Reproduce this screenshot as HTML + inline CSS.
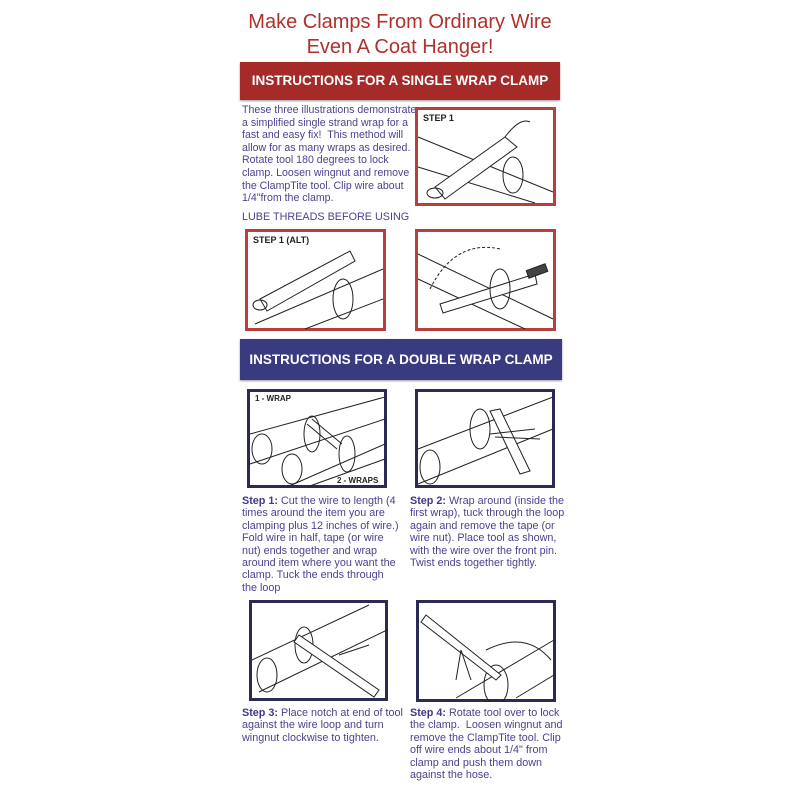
<!DOCTYPE html>
<html><head><meta charset="utf-8"><style>
body{margin:0;width:800px;height:800px;background:#fff;position:relative;overflow:hidden;font-family:"Liberation Sans",sans-serif}
.a{position:absolute}
.t{color:#b0302c;font-size:20px;text-align:center;width:400px;left:200px}
.ban{position:absolute;color:#fff;font-weight:bold;font-size:13.5px;text-align:center;box-shadow:0 1px 2px #999;white-space:nowrap}
.tx{position:absolute;color:#4b4290;font-size:10.8px;line-height:12.4px;white-space:nowrap}
.tx b{color:#3f3a88}
svg{position:absolute}
</style></head><body>
<div class="a t" style="top:11px">Make Clamps From Ordinary Wire</div>
<div class="a t" style="top:36px">Even A Coat Hanger!</div>
<div class="ban" style="left:240px;top:62px;width:320px;height:38px;line-height:38px;background:#a52a28">INSTRUCTIONS FOR A SINGLE WRAP CLAMP</div>
<div class="tx" style="left:242px;top:104px;line-height:12.6px;font-size:10.6px">These three illustrations demonstrate<br>a simplified single strand wrap for a<br>fast and easy fix!&nbsp; This method will<br>allow for as many wraps as desired.<br>Rotate tool 180 degrees to lock<br>clamp. Loosen wingnut and remove<br>the ClampTite tool. Clip wire about<br>1/4"from the clamp.</div>
<div class="tx" style="left:242px;top:211px">LUBE THREADS BEFORE USING</div>

<svg style="left:415px;top:107px" width="141" height="99"><rect x="1.5" y="1.5" width="138" height="96" fill="#fff" stroke="#b8403a" stroke-width="3"/>
<g stroke="#222" fill="none" stroke-width="1"><path d="M3 30 L138 85 M3 60 L120 96"/><path d="M20 80 L90 30 L102 40 L30 92 Z" fill="#fff"/><path d="M90 30 q15 -20 25 -15"/><ellipse cx="98" cy="68" rx="10" ry="18"/><ellipse cx="20" cy="86" rx="8" ry="5"/></g>
<text x="8" y="14" font-size="9" font-weight="bold" fill="#222" font-family="Liberation Sans">STEP 1</text></svg>

<svg style="left:245px;top:229px" width="141" height="102"><rect x="1.5" y="1.5" width="138" height="99" fill="#fff" stroke="#b8403a" stroke-width="3"/>
<g stroke="#222" fill="none"><path d="M10 95 L138 40 M60 100 L138 70"/><path d="M15 70 L105 22 L110 32 L22 82 Z" fill="#fff"/><ellipse cx="98" cy="70" rx="10" ry="20"/><ellipse cx="15" cy="76" rx="7" ry="5"/></g>
<text x="8" y="14" font-size="9" font-weight="bold" fill="#222" font-family="Liberation Sans">STEP 1 (ALT)</text></svg>

<svg style="left:415px;top:229px" width="141" height="102"><rect x="1.5" y="1.5" width="138" height="99" fill="#fff" stroke="#b8403a" stroke-width="3"/>
<g stroke="#222" fill="none"><path d="M3 25 L138 90 M3 50 L110 100"/><path d="M25 75 L120 45 L122 55 L28 84 Z" fill="#fff"/><path d="M15 60 Q40 10 85 20" stroke-dasharray="3 2"/><ellipse cx="85" cy="60" rx="10" ry="20"/><rect x="112" y="38" width="20" height="8" fill="#444" transform="rotate(-20 122 42)"/></g></svg>

<div class="ban" style="left:240px;top:339px;width:322px;height:41px;line-height:41px;background:#3a3a80">INSTRUCTIONS FOR A DOUBLE WRAP CLAMP</div>

<svg style="left:247px;top:389px" width="140" height="99"><rect x="1.5" y="1.5" width="137" height="96" fill="#fff" stroke="#2a2a55" stroke-width="3"/>
<g stroke="#222" fill="none"><path d="M3 45 L138 8 M3 75 L138 30 M40 98 L138 55 M60 98 L138 70"/><ellipse cx="15" cy="60" rx="10" ry="15"/><ellipse cx="45" cy="80" rx="10" ry="15"/><path d="M60 35 L90 60 M65 30 L95 55"/><ellipse cx="65" cy="45" rx="8" ry="18"/><ellipse cx="100" cy="65" rx="8" ry="18"/></g>
<text x="8" y="12" font-size="8" font-weight="bold" fill="#222" font-family="Liberation Sans">1 - WRAP</text>
<text x="90" y="94" font-size="8" font-weight="bold" fill="#222" font-family="Liberation Sans">2 - WRAPS</text></svg>

<svg style="left:415px;top:389px" width="140" height="99"><rect x="1.5" y="1.5" width="137" height="96" fill="#fff" stroke="#2a2a55" stroke-width="3"/>
<g stroke="#222" fill="none"><path d="M3 60 L138 8 M3 95 L138 40"/><ellipse cx="15" cy="78" rx="10" ry="17"/><ellipse cx="65" cy="40" rx="10" ry="20"/><path d="M75 22 L105 85 L115 82 L85 20 Z" fill="#fff"/><path d="M75 45 L120 40 M80 48 L125 50"/></g></svg>

<div class="tx" style="left:242px;top:495px"><b>Step 1:</b> Cut the wire to length (4<br>times around the item you are<br>clamping plus 12 inches of wire.)<br>Fold wire in half, tape (or wire<br>nut) ends together and wrap<br>around item where you want the<br>clamp. Tuck the ends through<br>the loop</div>
<div class="tx" style="left:410px;top:495px"><b>Step 2:</b> Wrap around (inside the<br>first wrap), tuck through the loop<br>again and remove the tape (or<br>wire nut). Place tool as shown,<br>with the wire over the front pin.<br>Twist ends together tightly.</div>

<svg style="left:249px;top:600px" width="139" height="101"><rect x="1.5" y="1.5" width="136" height="98" fill="#fff" stroke="#2a2a55" stroke-width="3"/>
<g stroke="#222" fill="none"><path d="M3 60 L120 5 M10 92 L138 30"/><ellipse cx="18" cy="75" rx="10" ry="17"/><ellipse cx="55" cy="45" rx="9" ry="18"/><path d="M50 35 L130 90 L125 97 L45 42 Z" fill="#fff"/><path d="M90 55 L120 45"/></g></svg>

<svg style="left:416px;top:600px" width="140" height="102"><rect x="1.5" y="1.5" width="137" height="99" fill="#fff" stroke="#2a2a55" stroke-width="3"/>
<g stroke="#222" fill="none"><path d="M40 98 L138 40 M100 98 L138 75"/><ellipse cx="80" cy="85" rx="12" ry="20"/><path d="M10 15 L85 75 L80 80 L5 22 Z" fill="#fff"/><path d="M70 50 Q110 30 135 60" /><path d="M45 50 L40 80 M45 50 L55 80"/></g></svg>

<div class="tx" style="left:242px;top:707px"><b>Step 3:</b> Place notch at end of tool<br>against the wire loop and turn<br>wingnut clockwise to tighten.</div>
<div class="tx" style="left:410px;top:707px"><b>Step 4:</b> Rotate tool over to lock<br>the clamp.&nbsp; Loosen wingnut and<br>remove the ClampTite tool. Clip<br>off wire ends about 1/4" from<br>clamp and push them down<br>against the hose.</div>
</body></html>
